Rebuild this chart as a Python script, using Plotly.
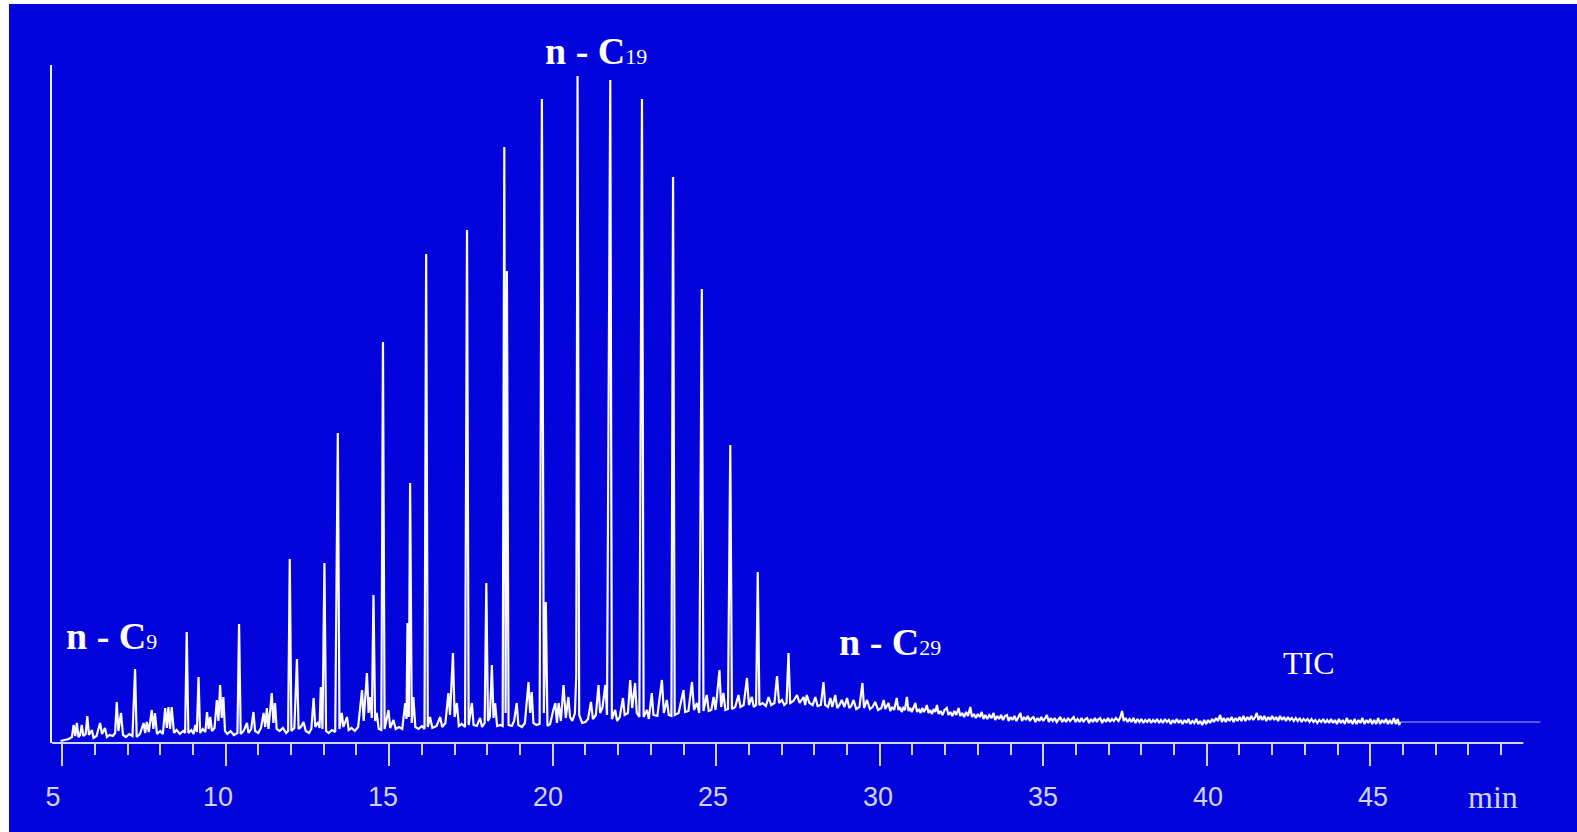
import plotly.graph_objects as go

# Total ion chromatogram (TIC), retention time in minutes vs abundance (arbitrary units)
tic_early = [
    (4.95, 2), (5.05, 3), (5.2, 4), (5.3, 6), (5.35, 18), (5.4, 7), (5.45, 20), (5.5, 6),
    (5.55, 8), (5.6, 18), (5.65, 7), (5.72, 9), (5.77, 27), (5.82, 8), (5.91, 13), (5.96, 5),
    (6.05, 7), (6.16, 20), (6.22, 9), (6.31, 15), (6.37, 6), (6.45, 8), (6.55, 7), (6.62, 10),
    (6.67, 41), (6.72, 12), (6.8, 30), (6.86, 8), (6.95, 6), (7.05, 9), (7.15, 7), (7.23, 74),
    (7.28, 6), (7.38, 9), (7.49, 20), (7.54, 10), (7.59, 21), (7.65, 11), (7.74, 33), (7.79, 14),
    (7.84, 30), (7.9, 9), (8.0, 12), (8.08, 9), (8.15, 35), (8.2, 15), (8.25, 36), (8.3, 14),
    (8.35, 36), (8.42, 10), (8.5, 13), (8.6, 9), (8.7, 12), (8.76, 10), (8.81, 111), (8.86, 10),
    (8.95, 13), (9.02, 9), (9.07, 18), (9.12, 11), (9.17, 66), (9.22, 10), (9.3, 14), (9.38, 11),
    (9.43, 31), (9.48, 14), (9.53, 26), (9.58, 12), (9.66, 15), (9.73, 43), (9.78, 22), (9.83, 58),
    (9.88, 25), (9.93, 46), (9.98, 12), (10.05, 9), (10.15, 12), (10.25, 8), (10.36, 10), (10.41, 119),
    (10.46, 9), (10.55, 12), (10.65, 20), (10.7, 10), (10.78, 14), (10.85, 31), (10.9, 12), (11.0, 10),
    (11.08, 15), (11.16, 30), (11.21, 16), (11.26, 35), (11.31, 14), (11.41, 50), (11.46, 20), (11.51, 40),
    (11.56, 14), (11.65, 12), (11.75, 15), (11.85, 10), (11.91, 12), (11.96, 184), (12.01, 12), (12.1, 15),
    (12.18, 84), (12.23, 14), (12.3, 16), (12.38, 21), (12.45, 12),
]

tic_mid = [
    (12.55, 10), (12.62, 14), (12.69, 45), (12.74, 16), (12.83, 21), (12.87, 15), (12.91, 56), (12.96, 14),
    (13.02, 180), (13.07, 12), (13.15, 10), (13.25, 13), (13.35, 11), (13.43, 310), (13.48, 14), (13.55, 30),
    (13.6, 16), (13.71, 26), (13.76, 13), (13.85, 15), (13.95, 12), (14.05, 16), (14.17, 53), (14.22, 22),
    (14.32, 70), (14.37, 30), (14.42, 46), (14.47, 25), (14.52, 148), (14.57, 22), (14.62, 30), (14.68, 14),
    (14.76, 13), (14.81, 401), (14.86, 14), (14.98, 33), (15.03, 15), (15.13, 23), (15.2, 14), (15.3, 16),
    (15.4, 14), (15.49, 40), (15.53, 24), (15.56, 120), (15.6, 26), (15.64, 260), (15.69, 20), (15.74, 46),
    (15.8, 16), (15.9, 14), (16.0, 17), (16.08, 14), (16.13, 489), (16.18, 16), (16.25, 26), (16.32, 15),
    (16.45, 17), (16.56, 26), (16.62, 16), (16.72, 20), (16.81, 50), (16.86, 28), (16.95, 90), (17.0, 26),
    (17.07, 40), (17.13, 17), (17.22, 19), (17.32, 16), (17.38, 513), (17.43, 18), (17.53, 40), (17.58, 18),
    (17.68, 17), (17.78, 25), (17.84, 16), (17.92, 20), (17.97, 160), (18.02, 22), (18.08, 26), (18.14, 78),
    (18.19, 25), (18.24, 40), (18.3, 17), (18.4, 18), (18.47, 17), (18.52, 596), (18.56, 30), (18.6, 472),
    (18.65, 18), (18.75, 17), (18.82, 22), (18.9, 40), (18.95, 18), (19.06, 16), (19.15, 20), (19.26, 61),
    (19.31, 30), (19.36, 51), (19.41, 20), (19.5, 18), (19.6, 19), (19.67, 644), (19.73, 30), (19.79, 141),
    (19.84, 17), (19.92, 19),
]

tic_late = [
    (20.02, 33), (20.08, 40), (20.13, 20), (20.18, 40), (20.25, 22), (20.33, 58), (20.4, 25), (20.48, 46),
    (20.53, 26), (20.6, 22), (20.68, 30), (20.72, 68), (20.76, 667), (20.81, 28), (20.9, 20), (21.0, 21),
    (21.08, 24), (21.17, 41), (21.23, 24), (21.32, 28), (21.4, 58), (21.45, 30), (21.52, 35), (21.61, 58),
    (21.66, 28), (21.76, 663), (21.81, 24), (21.91, 33), (21.97, 22), (22.05, 26), (22.15, 45), (22.2, 28),
    (22.3, 30), (22.37, 63), (22.43, 35), (22.52, 60), (22.57, 30), (22.65, 26), (22.73, 644), (22.78, 26),
    (22.88, 33), (22.94, 24), (23.03, 50), (23.08, 28), (23.2, 27), (23.34, 63), (23.4, 30), (23.49, 43),
    (23.55, 28), (23.63, 27), (23.68, 566), (23.73, 28), (23.85, 30), (24.0, 53), (24.05, 31), (24.15, 32),
    (24.26, 61), (24.32, 33), (24.41, 40), (24.48, 30), (24.56, 454), (24.61, 32), (24.71, 48), (24.77, 32),
    (24.85, 33), (24.92, 46), (24.98, 33), (25.1, 73), (25.15, 36), (25.22, 50), (25.28, 33), (25.36, 34),
    (25.43, 298), (25.48, 34), (25.58, 36), (25.68, 48), (25.74, 36), (25.84, 38), (25.94, 65), (26.0, 38),
    (26.09, 46), (26.15, 36), (26.22, 38), (26.27, 171), (26.32, 38), (26.42, 40), (26.52, 37), (26.6, 46),
    (26.68, 38), (26.78, 40), (26.86, 67), (26.92, 40), (27.01, 43), (27.08, 38), (27.15, 40), (27.21, 90),
    (27.26, 40), (27.36, 42), (27.47, 48), (27.55, 40), (27.67, 46), (27.72, 38), (27.77, 48), (27.85, 40),
    (27.95, 38), (28.03, 46), (28.1, 37), (28.2, 38), (28.28, 61), (28.33, 38), (28.42, 36), (28.49, 45),
    (28.55, 36), (28.64, 48), (28.7, 35), (28.77, 38), (28.84, 43), (28.92, 36), (29.0, 45), (29.07, 35),
    (29.13, 37), (29.2, 43), (29.28, 34), (29.38, 36), (29.47, 60), (29.52, 35), (29.61, 43), (29.7, 34),
    (29.78, 36), (29.86, 41), (29.95, 33),
]

tic_tail = [
    (30.05, 35), (30.12, 43), (30.17, 34), (30.22, 37), (30.27, 40), (30.32, 32), (30.38, 36), (30.44, 33),
    (30.48, 38), (30.52, 45), (30.57, 33), (30.62, 36), (30.67, 31), (30.72, 35), (30.77, 33), (30.83, 46),
    (30.88, 32), (30.93, 35), (30.98, 31), (31.04, 36), (31.09, 40), (31.14, 31), (31.2, 34), (31.25, 30),
    (31.3, 35), (31.35, 31), (31.4, 34), (31.44, 38), (31.49, 30), (31.54, 33), (31.6, 29), (31.65, 34),
    (31.7, 31), (31.75, 38), (31.8, 29), (31.86, 32), (31.92, 28), (31.98, 33), (32.05, 35), (32.1, 28),
    (32.16, 31), (32.22, 27), (32.28, 32), (32.34, 28), (32.41, 35), (32.46, 27), (32.52, 30), (32.58, 26),
    (32.64, 31), (32.7, 27), (32.77, 36), (32.82, 26), (32.88, 29), (32.94, 25), (33.0, 29), (33.06, 26),
    (33.12, 31), (33.17, 24), (33.23, 28), (33.29, 24), (33.35, 28), (33.42, 25), (33.48, 30), (33.53, 23),
    (33.59, 27), (33.65, 24), (33.71, 28), (33.77, 23), (33.83, 27), (33.89, 28), (33.94, 22), (34.0, 26),
    (34.06, 23), (34.12, 27), (34.18, 22), (34.24, 26), (34.3, 30), (34.35, 22), (34.41, 26), (34.47, 23),
    (34.53, 27), (34.59, 22), (34.65, 25), (34.7, 26), (34.76, 21), (34.82, 25), (34.88, 22), (34.94, 26),
    (35.0, 22), (35.06, 25), (35.11, 28), (35.17, 21), (35.23, 25), (35.29, 22), (35.35, 25), (35.41, 21),
    (35.47, 24), (35.52, 26), (35.58, 21), (35.64, 24), (35.7, 21), (35.76, 25), (35.82, 22), (35.88, 24),
    (35.93, 26), (35.99, 21), (36.05, 24), (36.11, 21), (36.17, 25), (36.23, 21), (36.29, 24), (36.34, 25),
    (36.4, 20), (36.46, 24), (36.52, 21), (36.58, 25), (36.64, 21), (36.69, 24), (36.74, 25), (36.8, 20),
    (36.86, 24), (36.92, 21), (36.98, 25), (37.04, 21), (37.1, 24), (37.16, 22), (37.22, 25), (37.3, 22),
    (37.36, 26), (37.41, 32), (37.46, 22), (37.52, 25), (37.58, 21), (37.64, 24), (37.7, 21), (37.76, 25),
    (37.82, 20), (37.88, 24), (37.94, 21), (38.0, 24), (38.06, 20), (38.12, 23), (38.18, 21), (38.24, 24),
    (38.3, 20), (38.36, 23), (38.42, 21), (38.48, 24), (38.54, 20), (38.6, 23), (38.66, 20), (38.72, 24),
    (38.78, 21), (38.84, 23), (38.9, 19), (38.96, 23), (39.02, 20), (39.08, 24), (39.14, 20), (39.2, 23),
    (39.26, 19), (39.32, 23), (39.38, 20), (39.44, 24), (39.5, 19), (39.56, 22), (39.62, 20), (39.68, 24),
    (39.74, 19), (39.8, 22), (39.86, 18), (39.92, 23), (39.98, 19), (40.04, 23), (40.1, 20), (40.16, 24),
    (40.22, 21), (40.28, 25), (40.34, 22), (40.41, 28), (40.46, 21), (40.52, 25), (40.58, 21), (40.64, 25),
    (40.7, 22), (40.76, 26), (40.82, 21), (40.88, 25), (40.94, 22), (41.0, 26), (41.06, 22), (41.12, 27),
    (41.18, 22), (41.24, 26), (41.3, 23), (41.36, 27), (41.42, 23), (41.48, 26), (41.53, 30), (41.58, 23),
    (41.64, 27), (41.7, 23), (41.76, 27), (41.82, 22), (41.88, 26), (41.94, 23), (42.0, 27), (42.06, 23),
    (42.12, 26), (42.18, 22), (42.24, 27), (42.3, 23), (42.36, 26), (42.42, 22), (42.48, 26), (42.54, 23),
    (42.6, 25), (42.66, 22), (42.72, 25), (42.78, 22), (42.84, 25), (42.9, 21), (42.96, 24), (43.02, 22),
    (43.08, 24), (43.14, 21), (43.2, 24), (43.26, 21), (43.32, 23), (43.38, 20), (43.44, 23), (43.5, 21),
    (43.56, 24), (43.62, 20), (43.68, 23), (43.74, 20), (43.8, 24), (43.86, 20), (43.92, 23), (43.98, 19),
    (44.04, 24), (44.1, 20), (44.16, 23), (44.22, 19), (44.28, 25), (44.34, 20), (44.4, 23), (44.46, 19),
    (44.52, 24), (44.58, 19), (44.64, 23), (44.7, 20), (44.76, 25), (44.82, 19), (44.88, 23), (44.94, 20),
    (45.0, 24), (45.06, 19), (45.12, 23), (45.18, 19), (45.24, 25), (45.3, 19), (45.36, 23), (45.42, 20),
    (45.48, 24), (45.54, 19), (45.6, 23), (45.66, 19), (45.72, 25), (45.78, 19), (45.84, 24), (45.88, 18),
    (45.92, 21),
]

# Flat detector signal recorded after the acquisition window
post_run = [(45.92, 21), (50.2, 21)]

major_ticks = [5, 10, 15, 20, 25, 30, 35, 40, 45]
tick_labels = ["5", "10", "15", "20", "25", "30", "35", "40", "45"]
minor_ticks = [m for m in range(6, 50) if m % 5 != 0]

peak_labels = [
    # (retention time, carbon number, vertical position as paper fraction)
    (6.50, "9", 0.158),
    (21.33, "19", 1.020),
    (30.32, "29", 0.149),
]

X_RANGE = [4.69, 50.25]
LABEL_RANGE = [4.97, 50.12]   # scale of the printed time labels
AXIS_END = 49.68
Y_RANGE = [0, 678]

BLUE = "#0303dc"
AXIS_COLOR = "#d2d2ff"

signal = tic_early + tic_mid + tic_late + tic_tail

fig = go.Figure()
fig.add_trace(go.Scatter(
    x=[p[0] for p in signal], y=[p[1] for p in signal],
    mode="lines", line=dict(color="#fbfbff", width=2.2), hoverinfo="skip",
))
fig.add_trace(go.Scatter(
    x=[p[0] for p in post_run], y=[p[1] for p in post_run],
    mode="lines", line=dict(color="#a8a8f8", width=1), hoverinfo="skip",
))
# empty carrier so the label axis is rendered
fig.add_trace(go.Scatter(
    x=major_ticks, y=[None] * len(major_ticks), xaxis="x2", yaxis="y",
    mode="lines", hoverinfo="skip",
))

W, H = 1577, 832
ML, MR, MT, MB = 52, 35, 65, 89
pw, ph = W - ML - MR, H - MT - MB


def px_x(p):
    return (p - ML) / pw


def px_y(p):
    return (H - MB - p) / ph


shapes = [
    # time axis baseline
    dict(type="line", xref="paper", yref="paper",
         x0=0, x1=(AXIS_END - X_RANGE[0]) / (X_RANGE[1] - X_RANGE[0]), y0=0, y1=0,
         line=dict(color=AXIS_COLOR, width=2)),
    # white margin strips at the left and top edge
    dict(type="rect", xref="paper", yref="paper", x0=px_x(0), x1=px_x(9),
         y0=px_y(H), y1=px_y(0), fillcolor="white", line=dict(width=0)),
    dict(type="rect", xref="paper", yref="paper", x0=px_x(0), x1=px_x(W),
         y0=px_y(4), y1=px_y(0), fillcolor="white", line=dict(width=0)),
]

annotations = []
for rt, cn, yp in peak_labels:
    annotations.append(dict(
        x=rt, xref="x", y=yp, yref="paper",
        text=f"<b>n - C</b><span style='font-size:22px'>{cn}</span>", showarrow=False,
        xanchor="center", yanchor="middle",
        font=dict(family="Liberation Serif", size=38, color="white"),
    ))
annotations.append(dict(
    x=43.13, xref="x", y=0.118, yref="paper", text="TIC", showarrow=False,
    xanchor="center", yanchor="middle",
    font=dict(family="Liberation Serif", size=32, color="white"),
))
annotations.append(dict(
    x=48.76, xref="x", y=0, yref="paper", yshift=-54, text="min", showarrow=False,
    xanchor="center", yanchor="middle",
    font=dict(family="Liberation Serif", size=32, color=AXIS_COLOR),
))

fig.update_layout(
    width=W, height=H,
    margin=dict(l=ML, r=MR, t=MT, b=MB, pad=0),
    paper_bgcolor=BLUE, plot_bgcolor=BLUE,
    showlegend=False,
    shapes=shapes,
    annotations=annotations,
    xaxis=dict(
        range=X_RANGE, showgrid=False, zeroline=False, showline=False,
        tickmode="array", tickvals=major_ticks, showticklabels=False,
        ticks="outside", ticklen=22, tickwidth=2, tickcolor=AXIS_COLOR,
        minor=dict(tickmode="array", tickvals=minor_ticks, ticks="outside",
                   ticklen=11, tickwidth=2, tickcolor=AXIS_COLOR),
    ),
    xaxis2=dict(
        range=LABEL_RANGE, overlaying="x", anchor="y", side="bottom",
        showgrid=False, zeroline=False, showline=False,
        tickmode="array", tickvals=major_ticks, ticktext=tick_labels,
        ticks="outside", ticklen=22, tickcolor="rgba(0,0,0,0)", ticklabelstandoff=8,
        tickfont=dict(family="Liberation Sans", size=27, color=AXIS_COLOR),
    ),
    yaxis=dict(
        range=Y_RANGE, showgrid=False, zeroline=False, showticklabels=False,
        showline=True, linecolor="#f0f0ff", linewidth=2, ticks="",
    ),
)

fig.write_html("out.html")
